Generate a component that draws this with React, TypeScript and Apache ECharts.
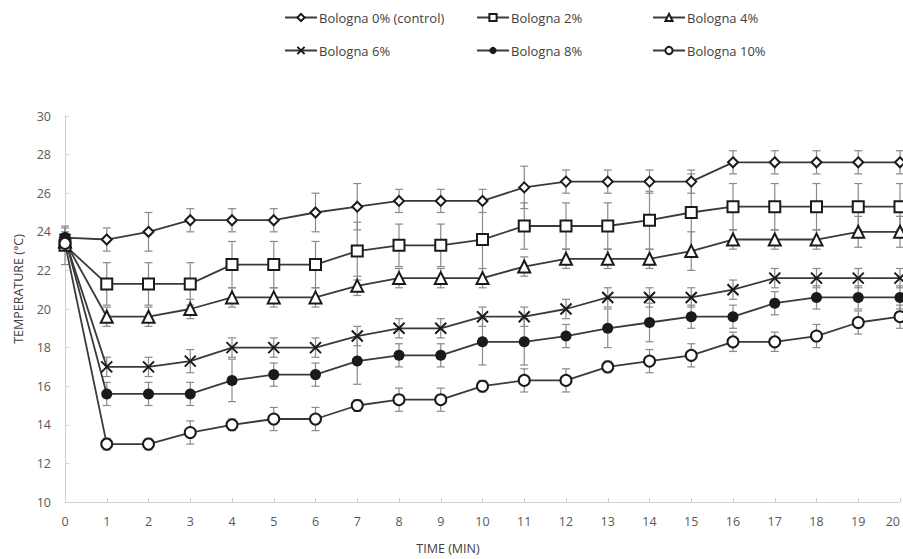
import React, { useEffect, useRef } from "react";
import * as echarts from "echarts";

const times = [0, 1, 2, 3, 4, 5, 6, 7, 8, 9, 10, 11, 12, 13, 14, 15, 16, 17, 18, 19, 20];
const yTicks = [10, 12, 14, 16, 18, 20, 22, 24, 26, 28, 30];

const names = [
  "Bologna 0% (control)",
  "Bologna 2%",
  "Bologna 4%",
  "Bologna 6%",
  "Bologna 8%",
  "Bologna 10%",
];

const control = [23.7, 23.6, 24.0, 24.6, 24.6, 24.6, 25.0, 25.3, 25.6, 25.6, 25.6, 26.3, 26.6, 26.6, 26.6, 26.6, 27.6, 27.6, 27.6, 27.6, 27.6];
const b2 = [23.3, 21.3, 21.3, 21.3, 22.3, 22.3, 22.3, 23.0, 23.3, 23.3, 23.6, 24.3, 24.3, 24.3, 24.6, 25.0, 25.3, 25.3, 25.3, 25.3, 25.3];
const b4 = [23.5, 19.6, 19.6, 20.0, 20.6, 20.6, 20.6, 21.2, 21.6, 21.6, 21.6, 22.2, 22.6, 22.6, 22.6, 23.0, 23.6, 23.6, 23.6, 24.0, 24.0];
const b6 = [23.6, 17.0, 17.0, 17.3, 18.0, 18.0, 18.0, 18.6, 19.0, 19.0, 19.6, 19.6, 20.0, 20.6, 20.6, 20.6, 21.0, 21.6, 21.6, 21.6, 21.6];
const b8 = [23.7, 15.6, 15.6, 15.6, 16.3, 16.6, 16.6, 17.3, 17.6, 17.6, 18.3, 18.3, 18.6, 19.0, 19.3, 19.6, 19.6, 20.3, 20.6, 20.6, 20.6];
const b10 = [23.4, 13.0, 13.0, 13.6, 14.0, 14.3, 14.3, 15.0, 15.3, 15.3, 16.0, 16.3, 16.3, 17.0, 17.3, 17.6, 18.3, 18.3, 18.6, 19.3, 19.6];

const errControl = [0.5, 0.6, 1.0, 0.6, 0.6, 0.6, 1.0, 1.2, 0.6, 0.6, 0.6, 1.1, 0.6, 0.6, 0.6, 0.6, 0.6, 0.6, 0.6, 0.6, 0.6];
const err2 = [1.0, 1.1, 1.1, 1.1, 1.2, 1.2, 1.2, 1.5, 1.1, 1.1, 2.0, 1.2, 1.2, 1.2, 1.5, 2.0, 1.2, 1.2, 1.2, 1.2, 1.2];
const err4 = [0.4, 0.5, 0.5, 0.5, 0.5, 0.5, 0.5, 0.5, 0.5, 0.5, 0.5, 0.5, 0.5, 0.5, 0.5, 1.0, 0.5, 0.5, 0.5, 0.8, 0.8];
const err6 = [0.3, 0.5, 0.5, 0.6, 0.5, 0.5, 0.5, 0.5, 0.5, 0.5, 0.5, 0.5, 0.5, 0.5, 0.5, 0.5, 0.5, 0.5, 0.5, 0.5, 0.5];
const err8 = [0.3, 0.6, 0.6, 0.6, 1.1, 0.6, 0.6, 1.2, 0.6, 0.6, 1.2, 1.2, 0.6, 1.0, 1.0, 0.6, 0.6, 0.6, 0.6, 0.6, 0.6];
const err10 = [0.3, 0.3, 0.3, 0.6, 0.3, 0.6, 0.6, 0.3, 0.6, 0.6, 0.3, 0.6, 0.6, 0.3, 0.6, 0.6, 0.5, 0.5, 0.6, 0.6, 0.6];

const values = [control, b2, b4, b6, b8, b10];
const errors = [errControl, err2, err4, err6, err8, err10];

const xSymbol = "path://M0,0L10,10M10,0L0,10";
const symbols = ["emptyDiamond", "emptyRect", "emptyTriangle", xSymbol, "circle", "emptyCircle"];
const symbolSizes = [10, 11, 12, 11, 11, 11];

const FONT = "'Open Sans', sans-serif";
const INK = "#1a1a1a";
const LINE = "#3a3a3a";
const ERR = "#8a8a8a";

export default function App() {
  const ref = useRef<HTMLDivElement>(null);
  useEffect(() => {
    if (!ref.current) return;
    const chart = echarts.init(ref.current, undefined, { renderer: "svg" });

    const lineSeries = names.map((name, i) => ({
      name,
      type: "line",
      data: times.map((t, k) => [t, values[i][k]]),
      symbol: symbols[i],
      symbolSize: symbolSizes[i],
      showAllSymbol: true,
      lineStyle: { color: LINE, width: 1.8 },
      itemStyle: {
        color: i === 3 ? "none" : INK,
        borderColor: INK,
        borderWidth: i === 4 ? 0 : 2,
      },
      emphasis: { disabled: true },
      z: 3,
    }));

    const errSeries = names.map((name, i) => ({
      name: name + " err",
      type: "custom",
      data: times.map((t, k) => [t, values[i][k] - errors[i][k], values[i][k] + errors[i][k]]),
      encode: { x: 0, y: [1, 2] },
      z: 2,
      silent: true,
      renderItem: (params: any, api: any) => {
        const x = api.value(0);
        const lo = api.coord([x, api.value(1)]);
        const hi = api.coord([x, api.value(2)]);
        const cap = 4;
        const style = { stroke: ERR, lineWidth: 1.2 };
        return {
          type: "group",
          children: [
            { type: "line", shape: { x1: lo[0], y1: lo[1], x2: hi[0], y2: hi[1] }, style },
            { type: "line", shape: { x1: lo[0] - cap, y1: lo[1], x2: lo[0] + cap, y2: lo[1] }, style },
            { type: "line", shape: { x1: hi[0] - cap, y1: hi[1], x2: hi[0] + cap, y2: hi[1] }, style },
          ],
        };
      },
    }));

    const legendBase = {
      orient: "vertical",
      itemWidth: 32,
      itemHeight: 9,
      itemGap: 20,
      selectedMode: false,
      textStyle: { fontFamily: FONT, fontSize: 13, color: "#404040", padding: [0, 0, 0, -3] },
      padding: 0,
    };

    chart.setOption({
      animation: false,
      backgroundColor: "#ffffff",
      textStyle: { fontFamily: FONT },
      legend: [
        { ...legendBase, left: 284, top: 11, data: [names[0], names[3]] },
        { ...legendBase, left: 476, top: 11, data: [names[1], names[4]] },
        { ...legendBase, left: 652, top: 11, data: [names[2], names[5]] },
      ],
      graphic: [
        {
          type: "text",
          x: 18,
          y: 289,
          rotation: Math.PI / 2,
          style: {
            text: "TEMPERATURE (°C)",
            fontFamily: FONT,
            fontSize: 12.5,
            fill: "#404040",
            align: "center",
            verticalAlign: "middle",
          },
        },
        {
          type: "text",
          x: 448,
          y: 548,
          style: {
            text: "TIME (MIN)",
            fontFamily: FONT,
            fontSize: 12.5,
            fill: "#404040",
            align: "center",
            verticalAlign: "middle",
          },
        },
      ],
      grid: { left: 65, right: 3, top: 116, bottom: 57, containLabel: false, outerBoundsMode: "none" },
      xAxis: {
        type: "value",
        min: 0,
        max: 20,
        interval: 1,
        axisLine: { show: true, lineStyle: { color: "#d0d0d0", width: 1 } },
        axisTick: { show: true, inside: true, length: 4, lineStyle: { color: "#d0d0d0" } },
        axisLabel: {
          fontFamily: FONT,
          fontSize: 12.5,
          color: "#595959",
          margin: 13,
          alignMaxLabel: "right",
        },
        splitLine: { show: false },
      },
      yAxis: {
        type: "value",
        min: yTicks[0],
        max: yTicks[yTicks.length - 1],
        interval: 2,
        axisLine: { show: true, lineStyle: { color: "#d0d0d0", width: 1 } },
        axisTick: { show: true, inside: true, length: 4, lineStyle: { color: "#d0d0d0" } },
        axisLabel: { fontFamily: FONT, fontSize: 12.5, color: "#595959", margin: 14 },
        splitLine: { show: false },
      },
      series: [...errSeries, ...lineSeries],
    });
    return () => chart.dispose();
  }, []);
  return (
    <div
      ref={ref}
      style={{ position: "absolute", left: 0, top: 0, width: 903, height: 559, background: "#fff" }}
    />
  );
}
